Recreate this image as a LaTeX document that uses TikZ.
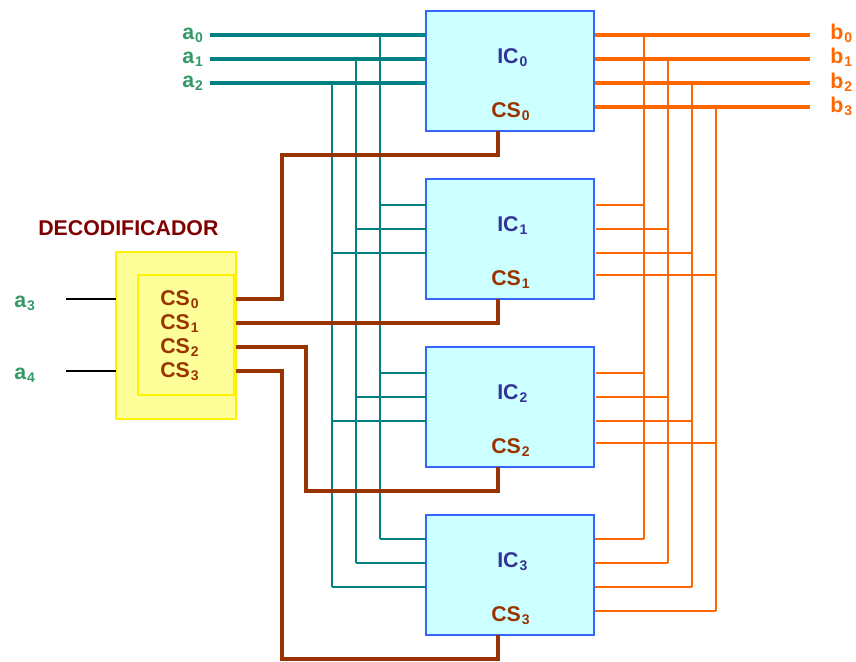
\documentclass[tikz,border=0pt]{standalone}
\usepackage{xcolor}
\usepackage{fontspec}
\setmainfont{Liberation Sans}
\usepackage{tikz}
\usetikzlibrary{positioning}

\definecolor{wireteal}{HTML}{008080}
\definecolor{wireorange}{HTML}{FF6600}
\definecolor{wirebrown}{HTML}{993300}
\definecolor{labelgreen}{HTML}{339966}
\definecolor{boxblue}{HTML}{3366FF}
\definecolor{boxfill}{HTML}{CCFFFF}
\definecolor{icblue}{HTML}{333399}
\definecolor{titlered}{HTML}{800000}
\definecolor{decfill}{HTML}{FFFF99}

\newcommand{\pinsub}[1]{\kern.8pt\raisebox{-.15em}{\fontsize{10.5pt}{10.5pt}\selectfont #1}}

\begin{document}
\begin{tikzpicture}[
    x=0.75pt, y=-0.75pt,
    node distance=126pt,
    icbox/.style={rectangle, draw=boxblue, fill=boxfill, line width=1.5pt, outer sep=0pt, minimum width=126pt, minimum height=90pt},
    decbox/.style={rectangle, draw=yellow, fill=decfill, line width=1.5pt, outer sep=0pt},
    txt/.style={anchor=base west, inner sep=0pt, font=\fontsize{16pt}{16pt}\selectfont\bfseries},
    inlabel/.style={txt, text=labelgreen},
    outlabel/.style={txt, text=wireorange},
    iclabel/.style={txt, text=icblue},
    cslabel/.style={txt, text=wirebrown},
    tealbus/.style={draw=wireteal, line width=3pt},
    teal/.style={draw=wireteal, line width=1.5pt, line cap=square},
    orangebus/.style={draw=wireorange, line width=3pt},
    orange/.style={draw=wireorange, line width=1.5pt, line cap=square},
    csline/.style={draw=wirebrown, line width=3pt}
]
\useasboundingbox (0,0) rectangle (856,661);

% Bus ends and junctions
\coordinate (a0) at (210,35);
\coordinate (a1) at (210,59);
\coordinate (a2) at (210,83);
\coordinate (t0) at (380,35);
\coordinate (t1) at (356,59);
\coordinate (t2) at (332,83);
\coordinate (b0) at (810,35);
\coordinate (b1) at (810,59);
\coordinate (b2) at (810,83);
\coordinate (b3) at (810,107);
\coordinate (r0) at (644,35);
\coordinate (r1) at (668,59);
\coordinate (r2) at (692,83);
\coordinate (r3) at (716,107);

% Thick buses
\draw[tealbus] (a0) -- (a0 -| 426,0);
\draw[tealbus] (a1) -- (a1 -| 426,0);
\draw[tealbus] (a2) -- (a2 -| 426,0);
\draw[orangebus] (b0) -- (b0 -| 594,0);
\draw[orangebus] (b1) -- (b1 -| 594,0);
\draw[orangebus] (b2) -- (b2 -| 594,0);
\draw[orangebus] (b3) -- (b3 -| 594,0);

% Memory chips
\node[icbox] (ic0) at (510,71) {};
\node[icbox, below of=ic0] (ic1) {};
\node[icbox, below of=ic1] (ic2) {};
\node[icbox, below of=ic2] (ic3) {};

% Input pins
\coordinate (i10) at (427,205);
\coordinate (i11) at (427,229);
\coordinate (i12) at (427,253);
\coordinate (i20) at (427,373);
\coordinate (i21) at (427,397);
\coordinate (i22) at (427,421);
\coordinate (i30) at (426,539);
\coordinate (i31) at (426,563);
\coordinate (i32) at (426,587);

% Output pins
\coordinate (o10) at (596,205);
\coordinate (o11) at (596,229);
\coordinate (o12) at (596,253);
\coordinate (o13) at (596,275);
\coordinate (o20) at (596,373);
\coordinate (o21) at (596,397);
\coordinate (o22) at (596,421);
\coordinate (o23) at (596,443);
\coordinate (o30) at (595,539);
\coordinate (o31) at (595,563);
\coordinate (o32) at (595,587);
\coordinate (o33) at (595,611);

% Teal address lines
\draw[teal] (t0) -- (t0 |- i30);
\draw[teal] (t1) -- (t1 |- i31);
\draw[teal] (t2) -- (t2 |- i32);
\draw[teal] (i10) -- (i10 -| t0);
\draw[teal] (i11) -- (i11 -| t1);
\draw[teal] (i12) -- (i12 -| t2);
\draw[teal] (i20) -- (i20 -| t0);
\draw[teal] (i21) -- (i21 -| t1);
\draw[teal] (i22) -- (i22 -| t2);
\draw[teal] (i30) -- (i30 -| t0);
\draw[teal] (i31) -- (i31 -| t1);
\draw[teal] (i32) -- (i32 -| t2);

% Orange data lines
\draw[orange] (r0) -- (r0 |- o30);
\draw[orange] (r1) -- (r1 |- o31);
\draw[orange] (r2) -- (r2 |- o32);
\draw[orange] (r3) -- (r3 |- o33);
\draw[orange] (o10) -- (o10 -| r0);
\draw[orange] (o11) -- (o11 -| r1);
\draw[orange] (o12) -- (o12 -| r2);
\draw[orange] (o13) -- (o13 -| r3);
\draw[orange] (o20) -- (o20 -| r0);
\draw[orange] (o21) -- (o21 -| r1);
\draw[orange] (o22) -- (o22 -| r2);
\draw[orange] (o23) -- (o23 -| r3);
\draw[orange] (o30) -- (o30 -| r0);
\draw[orange] (o31) -- (o31 -| r1);
\draw[orange] (o32) -- (o32 -| r2);
\draw[orange] (o33) -- (o33 -| r3);

% Decoder
\node[decbox, minimum width=90pt, minimum height=125.25pt] (dec) at (176,335.5) {};
\node[decbox, minimum width=72pt, minimum height=90pt] (decin) at (186,335) {};
\coordinate (a3end) at (66,299);
\coordinate (a4end) at (66,371);
\draw[black, line width=1.5pt] (a3end) -- (a3end -| dec.west);
\draw[black, line width=1.5pt] (a4end) -- (a4end -| dec.west);

% Chip select lines
\coordinate (s0) at (236,299);
\coordinate (s1) at (236,323);
\coordinate (s2) at (236,347);
\coordinate (s3) at (236,371);
\coordinate (c0) at (498,131);
\coordinate (c1) at (498,299);
\coordinate (c2) at (498,467);
\coordinate (c3) at (498,635);
\draw[csline] (s0) -- (282,299) -- (282,155) -- (498,155) -- (c0);
\draw[csline] (s1) -- (498,323) -- (c1);
\draw[csline] (s2) -- (306,347) -- (306,491) -- (498,491) -- (c2);
\draw[csline] (s3) -- (282,371) -- (282,659) -- (498,659) -- (c3);

% Labels
\node[inlabel] (la0) at (182,39) {a\pinsub{0}};
\node[inlabel] (la1) at (182,63) {a\pinsub{1}};
\node[inlabel] (la2) at (182,87) {a\pinsub{2}};
\node[inlabel] (la3) at (14,307) {a\pinsub{3}};
\node[inlabel] (la4) at (14,379) {a\pinsub{4}};
\node[outlabel] (lb0) at (830,39) {b\pinsub{0}};
\node[outlabel] (lb1) at (830,63) {b\pinsub{1}};
\node[outlabel] (lb2) at (830,88) {b\pinsub{2}};
\node[outlabel] (lb3) at (830,112) {b\pinsub{3}};
\node[txt, text=titlered] (title) at (38,235) {DECODIFICADOR};

\node[cslabel] (dcs0) at (160,305) {CS\pinsub{0}};
\node[cslabel] (dcs1) at (160,329) {CS\pinsub{1}};
\node[cslabel] (dcs2) at (160,353) {CS\pinsub{2}};
\node[cslabel] (dcs3) at (160,377) {CS\pinsub{3}};

\node[iclabel] (n0) at (497,63) {IC\pinsub{0}};
\node[iclabel] (n1) at (497,231) {IC\pinsub{1}};
\node[iclabel] (n2) at (497,399) {IC\pinsub{2}};
\node[iclabel] (n3) at (497,567) {IC\pinsub{3}};
\node[cslabel] (cs0) at (491,117) {CS\pinsub{0}};
\node[cslabel] (cs1) at (491,285) {CS\pinsub{1}};
\node[cslabel] (cs2) at (491,453) {CS\pinsub{2}};
\node[cslabel] (cs3) at (491,621) {CS\pinsub{3}};

\end{tikzpicture}
\end{document}
